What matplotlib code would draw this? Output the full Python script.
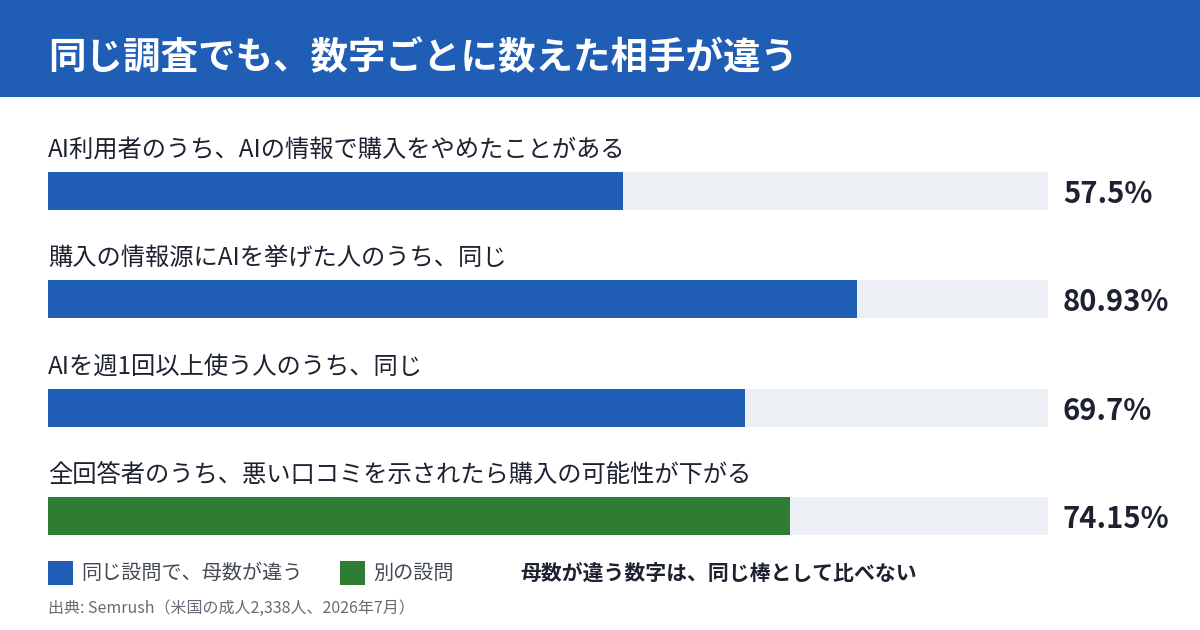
import matplotlib
matplotlib.use("Agg")
import matplotlib.pyplot as plt
from matplotlib.patches import Rectangle

plt.rcParams['font.family'] = ['Noto Sans CJK JP', 'DejaVu Sans']

title = "同じ調査でも、数字ごとに数えた相手が違う"
labels = ["AI利用者のうち、AIの情報で購入をやめたことがある",
          "購入の情報源にAIを挙げた人のうち、同じ",
          "AIを週1回以上使う人のうち、同じ",
          "全回答者のうち、悪い口コミを示されたら購入の可能性が下がる"]
values = [57.5, 80.93, 69.7, 74.15]
value_text = ["57.5%", "80.93%", "69.7%", "74.15%"]
groups = ["same", "same", "same", "other"]
legend_labels = ["同じ設問で、母数が違う", "別の設問"]
note = "母数が違う数字は、同じ棒として比べない"
source = "出典: Semrush（米国の成人2,338人、2026年7月）"

BLUE = "#1f5eb4"
GREEN = "#2e7d32"
TRACK = "#eceff3"
DARK = "#1e2230"
colors = {"same": BLUE, "other": GREEN}

W, H = 1200, 630
fig = plt.figure(figsize=(12, 6.3), dpi=100)
fig.patch.set_facecolor("white")

# banner
fig.patches.append(Rectangle((0, 1 - 97 / H), 1, 97 / H, transform=fig.transFigure,
                             facecolor=BLUE, edgecolor="none"))
fig.text(48 / W, 1 - 58 / H, title, color="white", fontsize=27, fontweight="bold",
         va="center", ha="left")

step = 108.3
top_px, bot_px, c0 = 130, 545, 191
ax = fig.add_axes([48 / W, 1 - bot_px / H, 1000 / W, (bot_px - top_px) / H])
ax.set_xlim(0, 100)
ax.set_ylim((bot_px - c0) / step, (top_px - c0) / step)
ax.axis("off")
ys = list(range(len(values)))
bh = 38 / step
ax.barh(ys, [100] * len(values), height=bh, color=TRACK, left=0)
ax.barh(ys, values, height=bh, color=[colors[g] for g in groups])
for i, (lab, vt) in enumerate(zip(labels, value_text)):
    ax.text(0, i - 41 / step, lab, fontsize=17.5, color=DARK, va="center", ha="left", clip_on=False)
    ax.text(101.5, i + 3 / step, vt, fontsize=21, fontweight="bold", color=DARK,
            va="center", ha="left", clip_on=False)

# legend
ly = 1 - 573 / H
for x0, c, t in [(48, BLUE, legend_labels[0]), (340, GREEN, legend_labels[1])]:
    fig.patches.append(Rectangle((x0 / W, ly - 12 / H), 25 / W, 24 / H, transform=fig.transFigure,
                                 facecolor=c, edgecolor="none"))
    fig.text((x0 + 33) / W, ly, t, fontsize=14.5, color="#444a55", va="center", ha="left")
fig.text(520 / W, ly, note, fontsize=15, fontweight="bold", color=DARK, va="center", ha="left")
fig.text(48 / W, 1 - 608 / H, source, fontsize=11.5, color="#666b75", va="center", ha="left")

fig.savefig("out.png", dpi=100)
